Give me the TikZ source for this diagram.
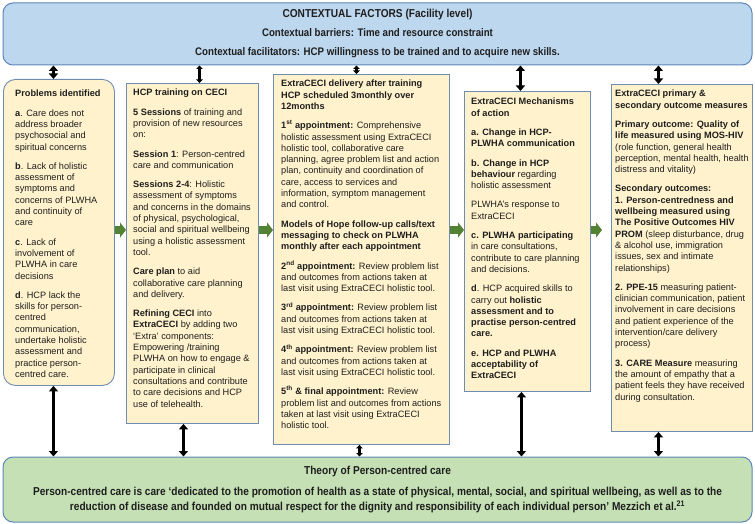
\documentclass[tikz,border=0pt]{standalone}
\usepackage{fontspec}
\setmainfont{Liberation Sans}
\newfontfamily\narrowfont[FakeStretch=0.88]{Liberation Sans}
\usetikzlibrary{arrows.meta,positioning}
\definecolor{ctxfill}{RGB}{189,215,238}
\definecolor{ctxedge}{RGB}{91,135,185}
\definecolor{colfill}{RGB}{255,242,204}
\definecolor{coledge}{RGB}{112,140,176}
\definecolor{thyfill}{RGB}{197,224,180}
\definecolor{flowgreen}{RGB}{84,130,53}
\definecolor{txtink}{RGB}{30,30,30}
\tikzset{
  band/.style={
    draw=ctxedge, line width=1pt, rounded corners=10pt,
    align=center, text=txtink
  },
  ctx/.style={band, fill=ctxfill, font=\narrowfont\bfseries\fontsize{11}{19}\selectfont},
  thy/.style={band, fill=thyfill, font=\narrowfont\bfseries\fontsize{11.5}{15}\selectfont},
  colbox/.style={draw=coledge, line width=0.9pt, fill=colfill, anchor=north west, inner sep=0pt},
  coltxt/.style={anchor=north west, inner sep=0pt, align=left, text=txtink,
    font=\fontsize{9.2}{11.3}\selectfont},
  dbl/.style={{Triangle[length=5.5pt,width=9pt]}-{Triangle[length=5.5pt,width=9pt]},
    draw=black, line width=2.8pt},
  sdbl/.style={{Triangle[length=3.5pt,width=6.5pt]}-{Triangle[length=3.5pt,width=6.5pt]},
    draw=black, line width=2.2pt},
  flow/.style={-{Triangle[length=6pt,width=15pt]}, draw=flowgreen, line width=8pt}
}

\begin{document}
\begin{tikzpicture}[x=1pt,y=-1pt]
  \useasboundingbox (0,0) rectangle (755,524);

  % Context band and theory band
  \node[ctx, minimum width=749pt, minimum height=62pt] (ctx) at (377.5,34)
    {{\fontsize{11.5}{19}\selectfont CONTEXTUAL FACTORS (Facility level)}\\
     Contextual barriers: Time and resource constraint\\
     Contextual facilitators: HCP willingness to be trained and to acquire new skills.};
  \node[thy, minimum width=749pt, minimum height=65pt] (thy) at (377.5,489.5)
    {Theory of Person-centred care\\[6pt]
     Person-centred care is care ‘dedicated to the promotion of health as a state of physical, mental, social, and spiritual wellbeing, as well as to the\\
     reduction of disease and founded on mutual respect for the dignity and responsibility of each individual person’ Mezzich et al.\textsuperscript{21}};

  % The five columns
  \node[colbox, rounded corners=12pt, minimum width=111pt, minimum height=306pt] (prob) at (3,79) {};
  \node[colbox, minimum width=132pt, minimum height=340pt] (train) at (126,83) {};
  \node[colbox, minimum width=176pt, minimum height=370pt] (deliv) at (273,74) {};
  \node[colbox, minimum width=126pt, minimum height=300pt] (mech) at (464,91) {};
  \node[colbox, minimum width=141pt, minimum height=347pt] (outc) at (611,84) {};

  \node[coltxt] (probtxt) at (15,90) {%
    \textbf{Problems identified}\\[8pt]
    \textbf{a}. Care does not\\address broader\\psychosocial and\\spiritual concerns\\[8pt]
    \textbf{b}. Lack of holistic\\assessment of\\symptoms and\\concerns of PLWHA\\and continuity of\\care\\[8pt]
    \textbf{c}. Lack of\\involvement of\\PLWHA in care\\decisions\\[8pt]
    \textbf{d}. HCP lack the\\skills for person-\\centred\\communication,\\undertake holistic\\assessment and\\practice person-\\centred care.};

  \node[coltxt] (traintxt) at (133,89) {%
    \textbf{HCP training on CECI}\\[8pt]
    \textbf{5 Sessions} of training and\\provision of new resources\\on:\\[8pt]
    \textbf{Session 1}: Person-centred\\care and communication\\[8pt]
    \textbf{Sessions 2-4}: Holistic\\assessment of symptoms\\and concerns in the domains\\of physical, psychological,\\social and spiritual wellbeing\\using a holistic assessment\\tool.\\[8pt]
    \textbf{Care plan} to aid\\collaborative care planning\\and delivery.\\[8pt]
    \textbf{Refining CECI} into\\\textbf{ExtraCECI} by adding two\\‘Extra’ components:\\Empowering /training\\PLWHA on how to engage \&\\participate in clinical\\consultations and contribute\\to care decisions and HCP\\use of telehealth.};

  \node[coltxt] (delivtxt) at (281,80) {%
    \textbf{ExtraCECI delivery after training}\\\textbf{HCP scheduled 3monthly over}\\\textbf{12months}\\[8pt]
    \textbf{1\textsuperscript{st} appointment:} Comprehensive\\holistic assessment using ExtraCECI\\holistic tool, collaborative care\\planning, agree problem list and action\\plan, continuity and coordination of\\care, access to services and\\information, symptom management\\and control.\\[8pt]
    \textbf{Models of Hope follow-up calls/text}\\\textbf{messaging to check on PLWHA}\\\textbf{monthly after each appointment}\\[8pt]
    \textbf{2\textsuperscript{nd} appointment:} Review problem list\\and outcomes from actions taken at\\last visit using ExtraCECI holistic tool.\\[8pt]
    \textbf{3\textsuperscript{rd} appointment:} Review problem list\\and outcomes from actions taken at\\last visit using ExtraCECI holistic tool.\\[8pt]
    \textbf{4\textsuperscript{th} appointment:} Review problem list\\and outcomes from actions taken at\\last visit using ExtraCECI holistic tool.\\[8pt]
    \textbf{5\textsuperscript{th} \& final appointment:} Review\\problem list and outcomes from actions\\taken at last visit using ExtraCECI\\holistic tool.};

  \node[coltxt] (mechtxt) at (471,98) {%
    \textbf{ExtraCECI Mechanisms}\\\textbf{of action}\\[8pt]
    \textbf{a. Change in HCP-}\\\textbf{PLWHA communication}\\[8pt]
    \textbf{b. Change in HCP}\\\textbf{behaviour} regarding\\holistic assessment\\[8pt]
    PLWHA’s response to\\ExtraCECI\\[8pt]
    \textbf{c. PLWHA participating}\\in care consultations,\\contribute to care planning\\and decisions.\\[8pt]
    \textbf{d}. HCP acquired skills to\\carry out \textbf{holistic}\\\textbf{assessment and to}\\\textbf{practise person-centred}\\\textbf{care.}\\[8pt]
    \textbf{e. HCP and PLWHA}\\\textbf{acceptability of}\\\textbf{ExtraCECI}};

  \node[coltxt] (outctxt) at (615,90) {%
    \textbf{ExtraCECI primary \&}\\\textbf{secondary outcome measures}\\[8pt]
    \textbf{Primary outcome: Quality of}\\\textbf{life measured using MOS-HIV}\\(role function, general health\\perception, mental health, health\\distress and vitality)\\[8pt]
    \textbf{Secondary outcomes:}\\\textbf{1. Person-centredness and}\\\textbf{wellbeing measured using}\\\textbf{The Positive Outcomes HIV}\\\textbf{PROM} (sleep disturbance, drug\\\& alcohol use, immigration\\issues, sex and intimate\\relationships)\\[8pt]
    \textbf{2. PPE-15} measuring patient-\\clinician communication, patient\\involvement in care decisions\\and patient experience of the\\intervention/care delivery\\process)\\[8pt]
    \textbf{3. CARE Measure} measuring\\the amount of empathy that a\\patient feels they have received\\during consultation.};

  % Links to the context band
  \draw[dbl] ([xshift=-5.5pt]prob.north) -- ([xshift=-5.5pt]prob.north |- ctx.south);
  \draw[sdbl] ([xshift=7pt]train.north) -- ([xshift=7pt]train.north |- ctx.south);
  \draw[sdbl] ([xshift=-5pt]deliv.north) -- ([xshift=-5pt]deliv.north |- ctx.south);
  \draw[dbl] ([xshift=-7pt]mech.north) -- ([xshift=-7pt]mech.north |- ctx.south);
  \draw[dbl] ([xshift=-23.5pt]outc.north) -- ([xshift=-23.5pt]outc.north |- ctx.south);

  % Links to the theory band
  \draw[dbl] ([xshift=-5.5pt]prob.south) -- ([xshift=-5.5pt]prob.south |- thy.north);
  \draw[dbl] ([xshift=-9pt]train.south) -- ([xshift=-9pt]train.south |- thy.north);
  \draw[sdbl] ([xshift=-2pt]deliv.south) -- ([xshift=-2pt]deliv.south |- thy.north);
  \draw[dbl] ([xshift=-6pt]mech.south) -- ([xshift=-6pt]mech.south |- thy.north);
  \draw[dbl] ([xshift=-23.5pt]outc.south) -- ([xshift=-23.5pt]outc.south |- thy.north);

  % Flow between columns
  \coordinate (fy) at (0,230);
  \coordinate (fend) at (602,230);
  \draw[flow] (prob.east |- fy) -- (train.west |- fy);
  \draw[flow] (train.east |- fy) -- (deliv.west |- fy);
  \draw[flow] (deliv.east |- fy) -- (mech.west |- fy);
  \draw[flow] (mech.east |- fy) -- (fend);
\end{tikzpicture}
\end{document}
